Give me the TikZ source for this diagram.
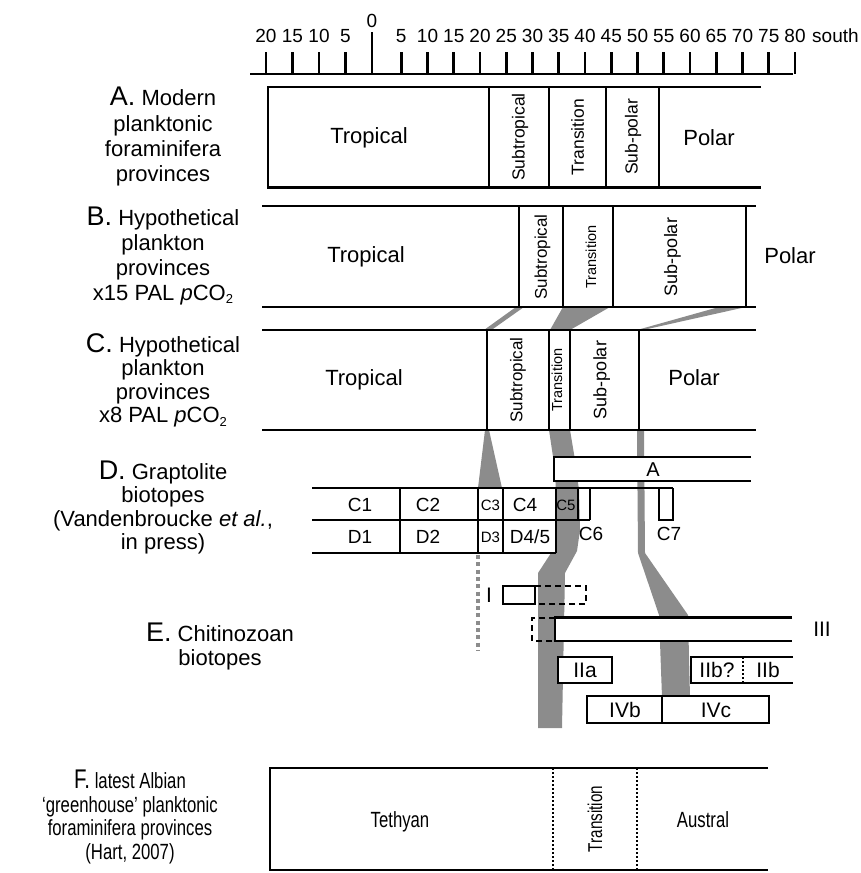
\documentclass[tikz,border=0pt]{standalone}
\usepackage{fontspec}
\setmainfont{Liberation Sans}
\newfontfamily\condensedfont[FakeStretch=0.76]{Liberation Sans}

\tikzstyle{zone line}=[line width=2.6pt]
\tikzstyle{white box}=[fill=white, draw=black, line width=2.2pt]
\tikzstyle{dashed box}=[line width=1.8pt, dash pattern=on 6pt off 4pt]
\tikzstyle{dotted divider}=[line width=1.6pt, dash pattern=on 2pt off 2pt]
\tikzstyle{gray band}=[fill=black!45]
\tikzstyle{gray dots}=[draw=black!45, line width=4pt, dash pattern=on 4pt off 3.3pt]
\tikzstyle{zone label}=[inner sep=0pt, anchor=base, font=\fontsize{22}{24}\selectfont]
\tikzstyle{vert label}=[inner sep=0pt, rotate=90, font=\fontsize{17.5}{20}\selectfont]
\tikzstyle{small vert label}=[inner sep=0pt, rotate=90, font=\fontsize{14.5}{17}\selectfont]
\tikzstyle{cell label}=[inner sep=0pt, anchor=base, font=\fontsize{19}{20}\selectfont]
\tikzstyle{tiny cell label}=[inner sep=0pt, anchor=base, font=\fontsize{15}{16}\selectfont]
\tikzstyle{bar label}=[inner sep=0pt, anchor=base, font=\fontsize{21}{22}\selectfont]
\tikzstyle{scale number}=[inner sep=0pt, anchor=base, font=\fontsize{19}{20}\selectfont]
\tikzstyle{row title}=[inner sep=0pt, anchor=north, align=center]

\newcommand{\rowletter}[1]{{\fontsize{27}{24}\selectfont #1}}
\newcommand{\subtwo}{\raisebox{-3.5pt}{\fontsize{13}{13}\selectfont 2}}

\begin{document}
\begin{tikzpicture}[x=1pt, y=-1pt]
	\useasboundingbox (0,0) rectangle (861,873);

	% Latitude scale
	\draw[zone line] (250,74) -- (793,74);
	\foreach \n in {20,15,10,5}{
		\draw[zone line] ({372-5.3*\n},52) -- ++(0,22);
		\node[scale number] (north\n) at ({372-5.3*\n},42) {\n};
	}
	\foreach \n in {5,10,...,80}{
		\draw[zone line] ({375+5.25*\n},52) -- ++(0,22);
		\node[scale number] (south\n) at ({375+5.25*\n},42) {\n};
	}
	\draw[zone line] (372,32) -- (372,74);
	\node[scale number] (zero) at (372,27) {0};
	\node[scale number, anchor=base west] (south) at (812,42) {south};

	% Gray bands between the rows
	\fill[gray band] (516,307) -- (524,307) -- (491.5,330) -- (484,330) -- cycle;
	\fill[gray band] (563,307) -- (610,307) -- (570,330) -- (550,330) -- cycle;
	\fill[gray band] (719,307) -- (746,307) -- (643,330) -- (637,330) -- cycle;
	\fill[gray band] (485,430) -- (489,430) -- (502,488) -- (502,553) -- (478,553) -- (478,488) -- cycle;
	\fill[gray band] (549,430) -- (570,430) -- (575,460) -- (579,490) -- (580,530) -- (577,551)
		-- (565,573) -- (562,728) -- (538,728) -- (538,573) -- (553,550) -- (557,520) -- (555,470) -- cycle;
	\fill[gray band] (637,430) -- (644,430) -- (645,553) -- (688,615) -- (690,697)
		-- (662,697) -- (659,615) -- (638,553) -- cycle;
	\draw[gray dots] (477.5,555) -- (477.5,650);

	% A. Modern provinces
	\draw[zone line] (761,87) -- (268,87) -- (268,187.5) -- (761,187.5);
	\foreach \x in {489,549,606,659}{ \draw[zone line] (\x,87) -- (\x,187.5); }
	\node[row title, font=\fontsize{22}{25.3}\selectfont] (titleA) at (163,87)
		{\rowletter{A.} Modern\\planktonic\\foraminifera\\provinces};
	\node[zone label] (tropA) at (369,143) {Tropical};
	\node[vert label] (subtropA) at (520,137) {Subtropical};
	\node[vert label] (transA) at (577.5,137) {Transition};
	\node[vert label] (subpolA) at (633,137) {Sub-polar};
	\node[zone label] (polarA) at (709,145) {Polar};

	% B. x15 PAL
	\draw[zone line] (262,206) -- (756,206);
	\draw[zone line] (262,307) -- (756,307);
	\foreach \x in {519,563,613,746}{ \draw[zone line] (\x,206) -- (\x,307); }
	\node[row title, font=\fontsize{22}{25}\selectfont] (titleB) at (163,206.4)
		{\rowletter{B.} Hypothetical\\plankton\\provinces\\x15 PAL \textit{p}CO\subtwo};
	\node[zone label] (tropB) at (366,262) {Tropical};
	\node[vert label, font=\fontsize{17}{20}\selectfont] (subtropB) at (542.5,257) {Subtropical};
	\node[small vert label] (transB) at (591,257) {Transition};
	\node[vert label, font=\fontsize{18}{20}\selectfont] (subpolB) at (672.5,257) {Sub-polar};
	\node[zone label] (polarB) at (790,263) {Polar};

	% C. x8 PAL
	\draw[zone line] (262,330) -- (756,330);
	\draw[zone line] (262,430) -- (756,430);
	\foreach \x in {487,549,570,639}{ \draw[zone line] (\x,330) -- (\x,430); }
	\node[row title, font=\fontsize{22}{23.5}\selectfont] (titleC) at (163,333)
		{\rowletter{C.} Hypothetical\\plankton\\provinces\\x8 PAL \textit{p}CO\subtwo};
	\node[zone label] (tropC) at (364,385) {Tropical};
	\node[vert label, font=\fontsize{17}{20}\selectfont] (subtropC) at (518,380) {Subtropical};
	\node[small vert label] (transC) at (557,380) {Transition};
	\node[vert label, font=\fontsize{18}{20}\selectfont] (subpolC) at (601.7,380) {Sub-polar};
	\node[zone label] (polarC) at (694,385) {Polar};

	% D. Graptolite biotopes
	\filldraw[white box] (751,457) -- (554,457) -- (554,481) -- (751,481);
	\node[bar label, font=\fontsize{20}{22}\selectfont] (bioA) at (653,476) {A};
	\fill[white] (312,488) rectangle (556,553);
	\draw[zone line] (312,488) -- (673,488);
	\draw[zone line] (312,520) -- (590,520);
	\draw[zone line] (312,553) -- (556,553);
	\foreach \x in {400,478,503,556}{ \draw[zone line] (\x,488) -- (\x,553); }
	\draw[zone line] (578,488) -- (578,520);
	\draw[zone line] (590,488) -- (590,520);
	\draw[zone line] (659,488) -- (659,520) -- (673,520) -- (673,488);
	\node[row title, font=\fontsize{22}{23.5}\selectfont] (titleD) at (163,460.7)
		{\rowletter{D.} Graptolite\\biotopes\\(Vandenbroucke \textit{et al.},\\in press)};
	\node[cell label] (c1) at (360,511) {C1};
	\node[cell label] (c2) at (428,511) {C2};
	\node[tiny cell label] (c3) at (490.5,510) {C3};
	\node[cell label] (c4) at (525,511) {C4};
	\node[tiny cell label] (c5) at (566,510) {C5};
	\node[cell label] (c6) at (591,540) {C6};
	\node[cell label] (c7) at (669,540) {C7};
	\node[cell label] (d1) at (360,543.5) {D1};
	\node[cell label] (d2) at (428,543.5) {D2};
	\node[tiny cell label] (d3) at (490.5,542) {D3};
	\node[cell label] (d45) at (530,543.5) {D4/5};

	% E. Chitinozoan biotopes
	\filldraw[white box] (503,586) rectangle (535,604);
	\draw[dashed box] (535,586) -- (586,586) -- (586,604) -- (535,604);
	\draw[dashed box] (555,618) -- (532,618) -- (532,641) -- (555,641);
	\filldraw[white box] (792,617.5) -- (555,617.5) -- (555,641) -- (792,641);
	\filldraw[white box] (558,657) rectangle (612,683);
	\filldraw[white box] (793,657) -- (691,657) -- (691,683) -- (793,683);
	\draw[dotted divider] (743,657) -- (743,683);
	\filldraw[white box] (587,696) rectangle (769,723);
	\draw[line width=2.2pt] (662,696) -- (662,723);
	\node[row title, font=\fontsize{22}{24}\selectfont] (titleE) at (220,623)
		{\rowletter{E.} Chitinozoan\\biotopes};
	\node[bar label] (chitI) at (489,602) {I};
	\node[bar label] (chitIII) at (822,636) {III};
	\node[bar label] (chitIIa) at (585,677.5) {IIa};
	\node[bar label] (chitIIbq) at (717,677.5) {IIb?};
	\node[bar label] (chitIIb) at (768,677.5) {IIb};
	\node[bar label] (chitIVb) at (625,717.5) {IVb};
	\node[bar label] (chitIVc) at (716,717.5) {IVc};

	% F. latest Albian provinces
	\draw[zone line] (768,768) -- (270,768) -- (270,870) -- (768,870);
	\draw[dotted divider] (553,768) -- (553,870);
	\draw[dotted divider] (637,768) -- (637,870);
	\node[row title, font=\condensedfont\fontsize{22}{23.5}\selectfont] (titleF) at (130,770)
		{\rowletter{F.} latest Albian\\‘greenhouse’ planktonic\\foraminifera provinces\\(Hart, 2007)};
	\node[zone label, font=\condensedfont\fontsize{22}{24}\selectfont] (tethyan) at (400,827) {Tethyan};
	\node[vert label, font=\condensedfont\fontsize{20}{22}\selectfont] (transF) at (595,819) {Transition};
	\node[zone label, font=\condensedfont\fontsize{22}{24}\selectfont] (austral) at (703,827) {Austral};
\end{tikzpicture}
\end{document}
